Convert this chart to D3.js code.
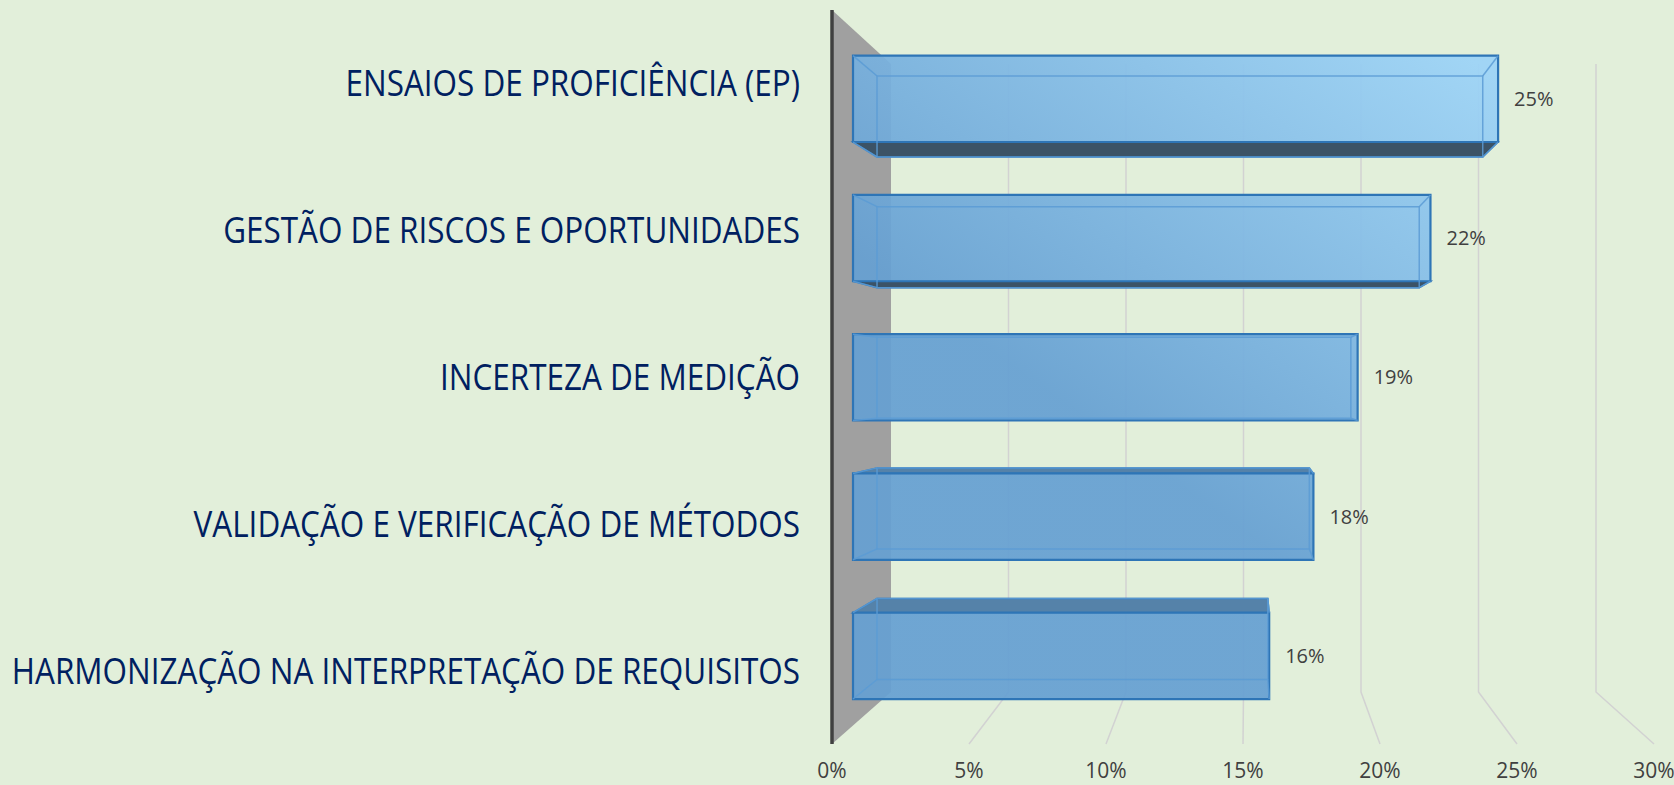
<!DOCTYPE html>
<html>
<head>
<meta charset="utf-8">
<script src="https://cdn.jsdelivr.net/npm/d3@7"></script>
<style>
  html, body { margin: 0; padding: 0; background: #e2efda; }
  svg { display: block; }
</style>
</head>
<body>
<div id="chart"></div>
<script>
// données
const categories = [
  "ENSAIOS DE PROFICIÊNCIA (EP)",
  "GESTÃO DE RISCOS E OPORTUNIDADES",
  "INCERTEZA DE MEDIÇÃO",
  "VALIDAÇÃO E VERIFICAÇÃO DE MÉTODOS",
  "HARMONIZAÇÃO NA INTERPRETAÇÃO DE REQUISITOS"
];
const values = [0.248, 0.222, 0.194, 0.177, 0.160];
const ticks = [0, 0.05, 0.10, 0.15, 0.20, 0.25, 0.30];

const W = 1674, H = 785;

const svg = d3.select("#chart").append("svg")
  .attr("width", W)
  .attr("height", H);

// plans avant / arrière de la boîte 3D
const xFront = d3.scaleLinear().domain([0, 0.3]).range([832, 1654]);
const xBack = d3.scaleLinear().domain([0, 0.3]).range([891, 1596]);
const yFront = d3.scaleLinear().domain([0, 1]).range([10, 744]);
const yBack = d3.scaleLinear().domain([0, 1]).range([64, 692]);

const band = d3.scaleBand().domain(categories).range([0, 1])
  .paddingInner(0.38).paddingOuter(0.19);

const tFront = 0.356, tBack = 0.763; // profondeur des barres

function proj(v, u, t) {
  return [
    xFront(v) + (xBack(v) - xFront(v)) * t,
    yFront(u) + (yBack(u) - yFront(u)) * t
  ];
}
const line = d3.line();

const defs = svg.append("defs");
const grad = defs.append("linearGradient")
  .attr("id", "barGrad")
  .attr("gradientUnits", "userSpaceOnUse")
  .attr("x1", 1200).attr("y1", 500)
  .attr("x2", 1500).attr("y2", 80);
grad.append("stop").attr("offset", 0).attr("stop-color", "#66a0d2");
grad.append("stop").attr("offset", 1).attr("stop-color", "#9cd3f7");

// paroi latérale grise
svg.append("path")
  .attr("d", line([
    [xFront(0), yFront(0)], [xBack(0), yBack(0)],
    [xBack(0), yBack(1)], [xFront(0), yFront(1)]
  ]) + "Z")
  .attr("fill", "#a0a0a0");

// quadrillage : mur du fond + sol
svg.append("g").selectAll("path")
  .data(ticks.filter(d => d > 0))
  .join("path")
  .attr("d", d => line([
    [xBack(d), yBack(0)], [xBack(d), yBack(1)], [xFront(d), yFront(1)]
  ]))
  .attr("fill", "none")
  .attr("stroke", "#d2d2d2")
  .attr("stroke-width", 1.5);

// axe vertical
svg.append("line")
  .attr("x1", xFront(0)).attr("x2", xFront(0))
  .attr("y1", yFront(0)).attr("y2", yFront(1))
  .attr("stroke", "#404040")
  .attr("stroke-width", 3.5);

// barres
const bars = svg.append("g").selectAll("g")
  .data(categories.map((c, i) => ({ c, v: values[i] })))
  .join("g");

bars.each(function (d) {
  const g = d3.select(this);
  const u0 = band(d.c), u1 = u0 + band.bandwidth();
  const F = [proj(0, u0, tFront), proj(d.v, u0, tFront), proj(d.v, u1, tFront), proj(0, u1, tFront)];
  const B = [proj(0, u0, tBack), proj(d.v, u0, tBack), proj(d.v, u1, tBack), proj(0, u1, tBack)];

  if (B[0][1] < F[0][1]) {
    g.append("path")
      .attr("d", line([F[0], F[1], B[1], B[0]]) + "Z")
      .attr("fill", "#5582a9")
      .attr("stroke", "#2e75b6")
      .attr("stroke-width", 1.5);
  }
  if (B[3][1] > F[3][1]) {
    g.append("path")
      .attr("d", line([F[3], F[2], B[2], B[3]]) + "Z")
      .attr("fill", "#3c5366")
      .attr("stroke", "#2e75b6")
      .attr("stroke-width", 1.5);
  }

  g.append("path")
    .attr("d", line(F) + "Z")
    .attr("fill", "url(#barGrad)")
    .attr("fill-opacity", 0.93)
    .attr("stroke", "#2e75b6")
    .attr("stroke-width", 2.2);

  // arêtes arrière vues par transparence
  const inner = g.append("g")
    .attr("fill", "none")
    .attr("stroke", "#5b9bd5")
    .attr("stroke-opacity", 0.85)
    .attr("stroke-width", 1.5);
  inner.append("path").attr("d", line(B) + "Z");
  for (let k = 0; k < 4; k++) {
    inner.append("path").attr("d", line([F[k], B[k]]));
  }

  // étiquette de valeur
  g.append("text")
    .attr("x", F[1][0] + 16)
    .attr("y", (F[1][1] + F[2][1]) / 2)
    .attr("dy", "0.35em")
    .attr("font-family", "Open Sans, sans-serif")
    .attr("font-size", 20)
    .attr("fill", "#404040")
    .text(d3.format(".0%")(d.v));
});

// étiquettes de l'axe des valeurs
svg.append("g").selectAll("text")
  .data(ticks)
  .join("text")
  .attr("x", d => xFront(d))
  .attr("y", 778)
  .attr("text-anchor", "middle")
  .attr("font-family", "Open Sans, sans-serif")
  .attr("font-size", 21)
  .attr("fill", "#404040")
  .text(d => d3.format(".0%")(d));

// étiquettes des catégories (police condensée façon Calibri)
const labels = svg.append("g").selectAll("text")
  .data(categories)
  .join("text")
  .attr("text-anchor", "end")
  .attr("font-family", "Open Sans, sans-serif")
  .attr("font-size", 36)
  .attr("fill", "#002060")
  .text(d => d);

const refWidth = labels.filter(d => d === "INCERTEZA DE MEDIÇÃO").node().getComputedTextLength();
const squeeze = 360 / refWidth;
labels.attr("transform", d => {
  const y = yFront(band(d) + band.bandwidth() / 2) + 13;
  return `translate(800,${y}) scale(${squeeze},1)`;
});
</script>
</body>
</html>
